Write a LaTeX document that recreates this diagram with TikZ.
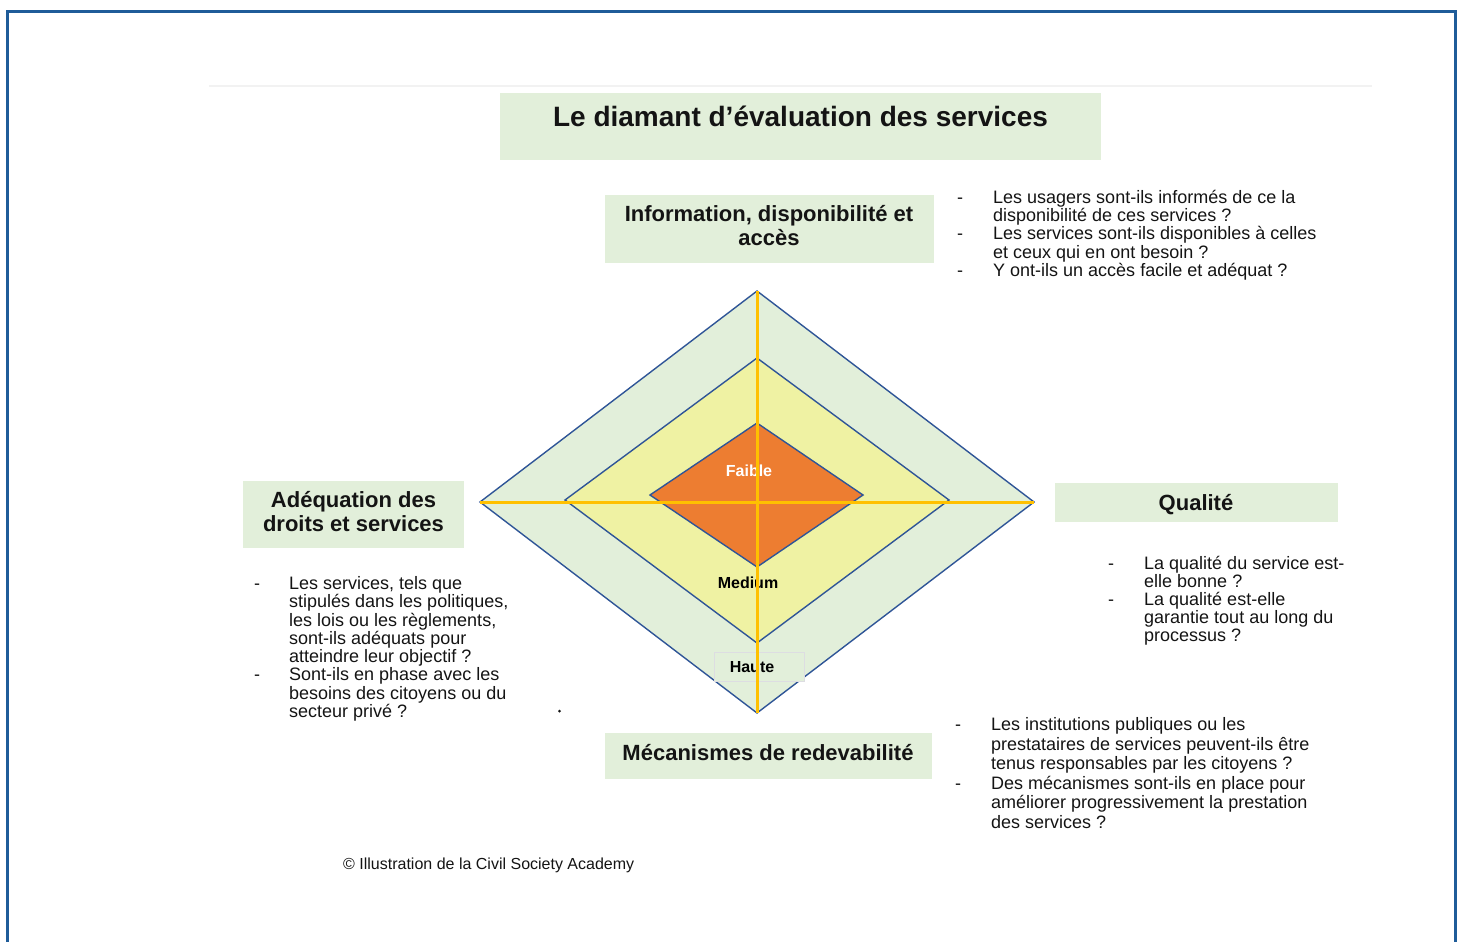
\documentclass[tikz,border=0pt]{standalone}
\usepackage{fontspec}
\setmainfont{Liberation Sans}
\definecolor{lgreen}{HTML}{E2EFDA}
\definecolor{lyellow}{HTML}{EFF2A3}
\definecolor{dorange}{HTML}{ED7D31}
\definecolor{edgeblue}{HTML}{2F5597}
\definecolor{axisyel}{HTML}{FFC000}
\definecolor{framebl}{HTML}{1F5C99}
\definecolor{faintgr}{HTML}{F2F2F2}
\definecolor{txt}{HTML}{141414}
\begin{document}
\begin{tikzpicture}[x=1pt,y=-1pt,
  gbox/.style={fill=lgreen, draw=none, anchor=north west, inner sep=0},
  body/.style={font=\fontsize{18}{18.3}\selectfont, inner sep=0, text=txt, anchor=base west},
  bdash/.style={font=\fontsize{18}{18.3}\selectfont, inner sep=0, text=txt, anchor=base west},
  hdr/.style={font=\bfseries\fontsize{22}{24}\selectfont, inner sep=0, text=txt, anchor=base},
  lvl/.style={font=\bfseries\fontsize{16}{18}\selectfont, inner sep=0, anchor=base},
  diam/.style={draw=edgeblue, line width=1.4pt, line join=miter},
  axis/.style={draw=axisyel, line width=3pt}]
\useasboundingbox (0,0) rectangle (1462,942);
\clip (0,0) rectangle (1462,942);
% frame
\draw[framebl, line width=3pt] (7.5,960) -- (7.5,11.5) -- (1455.3,11.5) -- (1455.3,960);
\draw[faintgr, line width=2pt] (209,86) -- (1372,86);
% boxes
\node[gbox, minimum width=601pt, minimum height=67pt] (tbox) at (500,93) {};
\node[gbox, minimum width=329pt, minimum height=68pt] (ibox) at (605,195) {};
\node[gbox, minimum width=221pt, minimum height=67pt] (abox) at (243,481) {};
\node[gbox, minimum width=283pt, minimum height=39pt] (qbox) at (1055,483) {};
\node[gbox, minimum width=327pt, minimum height=46pt] (mbox) at (605,733) {};
% titles
\node[font=\bfseries\fontsize{28}{30}\selectfont, inner sep=0, text=txt, anchor=base] (title) at (800.5,126) {Le diamant d’évaluation des services};
\node[hdr] (i1) at (769,221) {Information, disponibilité et};
\node[hdr] (i2) at (769,245) {accès};
\node[hdr] (a1) at (353.5,507) {Adéquation des};
\node[hdr] (a2) at (353.5,531) {droits et services};
\node[hdr] (q1) at (1196,510) {Qualité};
\node[hdr] (m1) at (768,760) {Mécanismes de redevabilité};
% diamond
\coordinate (ot) at (757,291); \coordinate (ol) at (480,502);
\coordinate (orr) at (1034,502); \coordinate (ob) at (757,713);
\filldraw[diam, fill=lgreen] (ot) -- (orr) -- (ob) -- (ol) -- cycle;
\filldraw[diam, fill=lyellow] (757,358) -- (949,500) -- (757,643) -- (565,500) -- cycle;
\filldraw[diam, fill=dorange] (757,423) -- (863,495) -- (757,567) -- (650,495) -- cycle;
\node[fill=lgreen, draw=blue!8!gray!25, line width=0.6pt, anchor=north west, inner sep=0, minimum width=90pt, minimum height=29pt] (hbox) at (714,652) {};
\node[lvl, text=white] (faible) at (749,476.5) {Faible};
\node[lvl, text=black] (medium) at (748,588.5) {Medium};
\node[lvl, text=black] (haute) at (752,672.5) {Haute};
\draw[axis] (ol) -- (orr);
\draw[axis] (ot) -- (ob);
\fill[txt] (559.5,711) circle (1.5pt);
% top right bullets
\node[bdash] (d1) at (957,203.4) {-};
\node[bdash] (d2) at (957,239.8) {-};
\node[bdash] (d3) at (957,276.2) {-};
\foreach \t [count=\i from 0] in {Les usagers sont-ils informés de ce la, disponibilité de ces services ?, Les services sont-ils disponibles à celles, et ceux qui en ont besoin ?, Y ont-ils un accès facile et adéquat ?}
  \node[body] (tr\i) at (993,{203.4+18.2*\i}) {\t};
% left bullets
\node[bdash] (d4) at (254,589.4) {-};
\node[bdash] (d5) at (254,680.9) {-};
\foreach \t [count=\i from 0] in {{Les services, tels que}, {stipulés dans les politiques,}, {les lois ou les règlements,}, sont-ils adéquats pour, atteindre leur objectif ?, Sont-ils en phase avec les, besoins des citoyens ou du, secteur privé ?}
  \node[body] (lf\i) at (289,{589.4+18.3*\i}) {\t};
% quality bullets
\node[bdash] (d6) at (1108,569.4) {-};
\node[bdash] (d7) at (1108,605.4) {-};
\foreach \t [count=\i from 0] in {La qualité du service est-, elle bonne ?, La qualité est-elle, garantie tout au long du, processus ?}
  \node[body] (ql\i) at (1144,{569.4+18*\i}) {\t};
% accountability bullets
\node[bdash] (d8) at (955,730.4) {-};
\node[bdash] (d9) at (955,789.2) {-};
\foreach \t [count=\i from 0] in {Les institutions publiques ou les, prestataires de services peuvent-ils être, tenus responsables par les citoyens ?, Des mécanismes sont-ils en place pour, améliorer progressivement la prestation, des services ?}
  \node[body] (ac\i) at (991,{730.4+19.6*\i}) {\t};
% credit
\node[font=\fontsize{16}{18}\selectfont, inner sep=0, text=txt, anchor=base west] (credit) at (343,869.7) {© Illustration de la Civil Society Academy};
\end{tikzpicture}
\end{document}
